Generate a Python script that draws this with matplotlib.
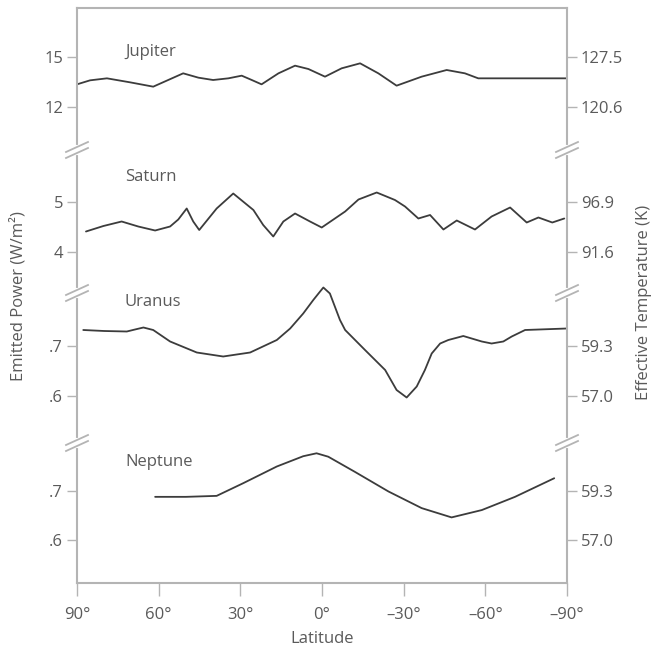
import matplotlib
matplotlib.use("Agg")
import matplotlib.pyplot as plt
from matplotlib.lines import Line2D

plt.rcParams['font.family'] = ['Open Sans', 'DejaVu Sans']

# --- data (latitude in degrees, emitted power in W/m2) ---
jup_lat = [90, 85.2, 79, 70.5, 62, 56.5, 51, 45.4, 40, 34.4, 29.5, 25.8, 22.2, 16, 9.9, 5,
           -1.1, -7.2, -14, -20.7, -27.4, -36.6, -45.8, -52.5, -57.4, -70, -90]
jup_pow = [13.36, 13.6, 13.72, 13.48, 13.22, 13.62, 14.02, 13.76, 13.62, 13.72, 13.88, 13.62,
           13.36, 14.02, 14.48, 14.28, 13.82, 14.32, 14.62, 14.02, 13.28, 13.82, 14.22, 14.02,
           13.72, 13.72, 13.72]

sat_lat = [86.7, 80.3, 73.6, 67.5, 61.3, 55.8, 52.8, 49.7, 47.3, 45.1, 38.7, 32.6, 25.2, 21.6,
           17.9, 14.2, 9.9, 4.4, 0.1, -8.5, -13.4, -20.1, -26.8, -30.5, -35.4, -39.7, -44.6,
           -49.5, -56.2, -62.3, -69.1, -75.2, -79.5, -84.6, -89]
sat_pow = [4.41, 4.52, 4.61, 4.51, 4.43, 4.51, 4.65, 4.87, 4.61, 4.44, 4.87, 5.17, 4.84, 4.54,
           4.31, 4.61, 4.77, 4.61, 4.49, 4.81, 5.05, 5.19, 5.04, 4.91, 4.67, 4.74, 4.45,
           4.63, 4.45, 4.71, 4.89, 4.59, 4.69, 4.59, 4.67]

ura_lat = [87.7, 80, 71.7, 68.7, 65.6, 62, 55.8, 46, 36.3, 26.4, 16.6, 11.7, 6.9, 3.2, 0.7,
           -0.5, -2.9, -6.6, -8.5, -15.8, -23.2, -27.4, -31.1, -34.8, -37.8, -40.3, -43.4,
           -46.4, -51.9, -58.7, -62.3, -66.6, -69.7, -74.6, -89.9]
ura_pow = [.732, .730, .729, .733, .737, .732, .709, .687, .679, .687, .712, .735, .765, .792,
           .809, .817, .805, .752, .732, .692, .652, .612, .597, .619, .652, .685, .705,
           .712, .72, .709, .705, .709, .719, .732, .735]

nep_lat = [61.3, 50, 38.7, 28.9, 16.6, 6.9, 2, -2.3, -12.1, -24.4, -36.6, -47.6, -58.7, -70.9, -85.3]
nep_pow = [.688, .688, .690, .716, .750, .771, .777, .770, .739, .699, .665, .646, .661, .688, .726]

planets = ["Jupiter", "Saturn", "Uranus", "Neptune"]
power_ticks = [[15, 12], [5, 4], [.7, .6], [.7, .6]]
power_labels = [["15", "12"], ["5", "4"], [".7", ".6"], [".7", ".6"]]
temp_labels = [["127.5", "120.6"], ["96.9", "91.6"], ["59.3", "57.0"], ["59.3", "57.0"]]
ylims = [(9.42, 17.94), (3.18, 6.04), (0.506, 0.806), (0.512, 0.798)]
label_y = [15.3, 5.5, 0.788, 0.759]

lat_ticks = [90, 60, 30, 0, -30, -60, -90]
lat_labels = ["90°", "60°", "30°", "0°", "–30°", "–60°", "–90°"]

series = [(jup_lat, jup_pow), (sat_lat, sat_pow), (ura_lat, ura_pow), (nep_lat, nep_pow)]

# --- styles ---
spine_c = "#b4b4b4"
text_c = "#5a5a5a"
line_c = "#3c3c3c"

W, H = 655, 653
fig, axes = plt.subplots(4, 1, figsize=(W / 100, H / 100), dpi=100,
                         gridspec_kw=dict(height_ratios=[142, 143, 150, 140], hspace=0))
fig.subplots_adjust(left=77 / W, right=567 / W, top=1 - 8 / H, bottom=1 - 583 / H)

for i, ax in enumerate(axes):
    lat, pw = series[i]
    ax.plot(lat, pw, color=line_c, lw=1.3, clip_on=False,
            solid_capstyle="round", solid_joinstyle="round")
    ax.set_xlim(90, -90)
    ax.set_ylim(*ylims[i])
    ax.text(72.4, label_y[i], planets[i], ha="left", va="center", fontsize=12, color=text_c)

    for s in ax.spines.values():
        s.set_color(spine_c)
        s.set_linewidth(1.5)
    if i > 0:
        ax.spines["top"].set_visible(False)
    if i < 3:
        ax.spines["bottom"].set_visible(False)
        ax.tick_params(axis="x", bottom=False, labelbottom=False)

    ax.set_yticks(power_ticks[i], labels=power_labels[i])
    ax.tick_params(axis="y", direction="out", length=7, width=1, color=spine_c,
                   labelcolor=text_c, labelsize=12, pad=3)

    tw = ax.twinx()
    tw.set_ylim(ax.get_ylim())
    tw.set_yticks(power_ticks[i], labels=temp_labels[i])
    tw.tick_params(axis="y", direction="out", length=7, width=1, color=spine_c,
                   labelcolor=text_c, labelsize=12, pad=3)
    for s in tw.spines.values():
        s.set_visible(False)

axes[-1].set_xticks(lat_ticks, labels=lat_labels)
axes[-1].tick_params(axis="x", direction="out", length=9, width=1, color=spine_c,
                     labelcolor=text_c, labelsize=12, pad=8)
axes[-1].set_xlabel("Latitude", fontsize=12, color=text_c, labelpad=6)

# --- axis break marks on both spines ---
for ax in axes[:-1]:
    pos = ax.get_position()
    for xs in (pos.x0, pos.x1):
        xp, yp = xs * W, pos.y0 * H
        fig.add_artist(Line2D([xs, xs], [(yp - 3) / H, (yp + 3) / H], color="white",
                              lw=3, transform=fig.transFigure))
        for dy in (-3, 3):
            fig.add_artist(Line2D([(xp - 11) / W, (xp + 11) / W],
                                  [(yp + dy - 5) / H, (yp + dy + 5) / H],
                                  color=spine_c, lw=1.3, transform=fig.transFigure))

fig.text(18 / W, 1 - 296 / H, "Emitted Power (W/m²)", rotation=90, ha="center", va="center",
         fontsize=12, color=text_c)
fig.text(636 / W, 1 - 302 / H, "Effective Temperature (K)", rotation=90, ha="left",
         va="center", fontsize=12, color=text_c)

fig.savefig("out.png", dpi=100)
